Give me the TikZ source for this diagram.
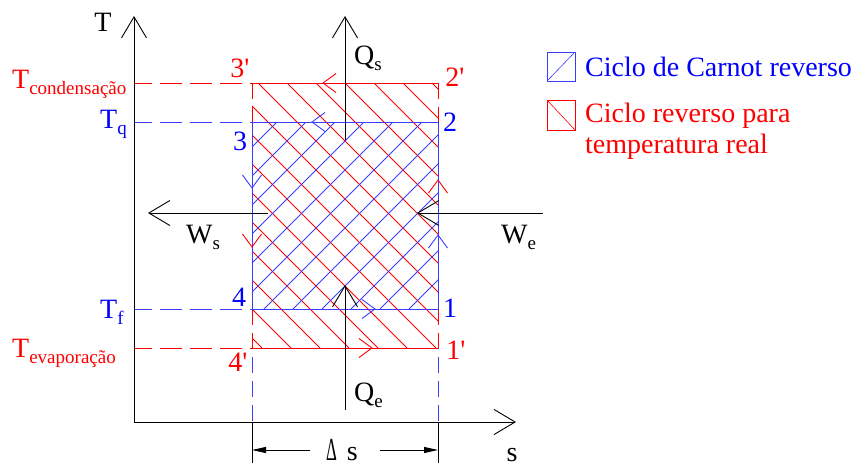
\documentclass[tikz,border=0pt]{standalone}
\usepackage{fontspec}
\setmainfont{Liberation Serif}[Ligatures=TeXOff]
\usetikzlibrary{arrows.meta}
\definecolor{lineblue}{RGB}{60,60,255}
\newcommand\mysub[1]{\raisebox{-6pt}{\fontsize{19}{19}\selectfont #1}}
\begin{document}
\begin{tikzpicture}[x=1pt,y=-1pt,
  lbl/.style={font=\fontsize{28}{31}\selectfont, inner sep=0pt},
  thin line/.style={line width=0.9pt},
  hatch/.style={line width=0.75pt},
  big barb/.style={-{Straight Barb[length=21pt,width=25pt,line width=0.9pt]}},
  hdash/.style={dash pattern=on 22pt off 8pt, dash phase=4pt},
  vdash/.style={dash pattern=on 16pt off 8pt},
  dimtip/.style={-{Triangle[length=14pt,width=6pt]}},
  vhead/.pic={\draw[line width=0.9pt] (-13,-9.5) -- (0,0) -- (-13,9.5);}
]
\useasboundingbox (0,0) rectangle (862,466);

% key points
\coordinate (O) at (134,422);
\coordinate (Ttop) at (134,16);
\coordinate (Send) at (516,422);
\coordinate (r3) at (252,83);
\coordinate (r2) at (438,83);
\coordinate (b3) at (252,122);
\coordinate (b2) at (438,122);
\coordinate (b4) at (252,309);
\coordinate (b1) at (438,309);
\coordinate (r4) at (252,348);
\coordinate (r1) at (438,348);

% hatching
\begin{scope}
  \clip (r3) rectangle (r1);
  \foreach \k in {-10,...,6}
    \draw[red,hatch] ({175+29*\k+83},83) -- ({175+29*\k+348},348);
\end{scope}
\begin{scope}
  \clip (b3) rectangle (b1);
  \foreach \k in {-3,...,10}
    \draw[lineblue,hatch] ({457+29*\k-122},122) -- ({457+29*\k-309},309);
\end{scope}

% dashed level lines
\coordinate (yc) at (134,83);
\coordinate (yq) at (134,122);
\coordinate (yf) at (134,309);
\coordinate (ye) at (134,348);
\draw[red,thin line,hdash] (yc) -- (r3);
\draw[lineblue,thin line,hdash] (yq) -- (b3);
\draw[lineblue,thin line,hdash] (yf) -- (b4);
\draw[red,thin line,hdash] (ye) -- (r4);

% vertical dashed parts
\coordinate (bl) at (252,422);
\coordinate (br) at (438,422);
\draw[lineblue,thin line,vdash] (b4) -- (bl);
\draw[lineblue,thin line,vdash] (b1) -- (br);
\draw[red,thin line,vdash] (b4) -- (r4);
\draw[red,thin line,vdash] (b1) -- (r1);
\draw[red,thin line,vdash] (r3) -- (b3);
\draw[red,thin line,vdash] (r2) -- (b2);

% cycle edges
\draw[red,thin line] (r3) -- (r2);
\draw[red,thin line] (r4) -- (r1);
\draw[lineblue,thin line] (b3) -- (b2) -- (b1) -- (b4) -- cycle;

% axes
\draw[thin line,big barb] (O) -- (Ttop);
\draw[thin line,big barb] (O) -- (Send);

% extension lines and delta s
\coordinate (el) at (252,463);
\coordinate (er) at (438,463);
\draw[thin line] (bl) -- (el);
\draw[thin line] (br) -- (er);
\coordinate (dl) at (310,450);
\coordinate (dr) at (380,450);
\coordinate (dlt) at (252,450);
\coordinate (drt) at (438,450);
\draw[thin line,dimtip] (dl) -- (dlt);
\draw[thin line,dimtip] (dr) -- (drt);
\node[lbl,anchor=base] (ds) at (342,460) {\scalebox{0.6}[1.15]{Δ}\hspace{10pt}s};

% heat and work flows
\coordinate (qs0) at (345,140);
\coordinate (qs1) at (345,16);
\draw[thin line,big barb] (qs0) -- (qs1);
\coordinate (qe0) at (345,410);
\coordinate (qe1) at (345,285);
\draw[thin line,big barb] (qe0) -- (qe1);
\coordinate (ws0) at (268,213);
\coordinate (ws1) at (148,213);
\draw[thin line,big barb] (ws0) -- (ws1);
\coordinate (we0) at (543,213);
\coordinate (we1) at (417,213);
\draw[thin line,big barb] (we0) -- (we1);

% direction marks
\pic[red,rotate=180] at (323,83) {vhead};
\pic[lineblue,rotate=180] at (312,122) {vhead};
\pic[lineblue,rotate=-90] at (252,188) {vhead};
\pic[red,rotate=-90] at (252,247) {vhead};
\pic[lineblue] at (375,309) {vhead};
\pic[red] at (372,348) {vhead};
\pic[lineblue,rotate=90] at (438,235) {vhead};
\pic[red,rotate=90] at (438,180) {vhead};

% labels
\node[lbl] (tl) at (103,22) {T};
\node[lbl] (sl) at (512,455) {s};
\node[lbl,anchor=base west] (qsl) at (354,64) {Q\mysub{s}};
\node[lbl,anchor=base west] (qel) at (354,401) {Q\mysub{e}};
\node[lbl,anchor=base west] (wsl) at (186,243) {W\mysub{s}};
\node[lbl,anchor=base west] (wel) at (501,243) {W\mysub{e}};

\node[lbl,red,anchor=base west] (tcond) at (12,88) {T\mysub{condensação}};
\node[lbl,blue,anchor=base west] (tq) at (100,128) {T\mysub{q}};
\node[lbl,blue,anchor=base west] (tf) at (100,318) {T\mysub{f}};
\node[lbl,red,anchor=base west] (tevap) at (12,357) {T\mysub{evaporação}};

\node[lbl,red] (n3p) at (240,68) {3'};
\node[lbl,red] (n2p) at (455,77) {2'};
\node[lbl,blue] (n2) at (450,122) {2};
\node[lbl,blue] (n3) at (240,141) {3};
\node[lbl,blue] (n4) at (239,297) {4};
\node[lbl,blue] (n1) at (450,308) {1};
\node[lbl,red] (n1p) at (456,350) {1'};
\node[lbl,red] (n4p) at (238,362) {4'};

% legend
\draw[lineblue,line width=0.8pt] (547,52) rectangle (575,81);
\draw[lineblue,line width=0.6pt] (547,81) -- (575,52);
\draw[red,line width=0.8pt] (547,100) rectangle (575,130);
\draw[red,line width=0.6pt] (547,100) -- (575,130);
\node[lbl,blue,anchor=base west] (leg1) at (585,76) {Ciclo de Carnot reverso};
\node[lbl,red,anchor=base west] (leg2) at (585,122) {Ciclo reverso para};
\node[lbl,red,anchor=base west] (leg3) at (585,153) {temperatura real};
\end{tikzpicture}
\end{document}
